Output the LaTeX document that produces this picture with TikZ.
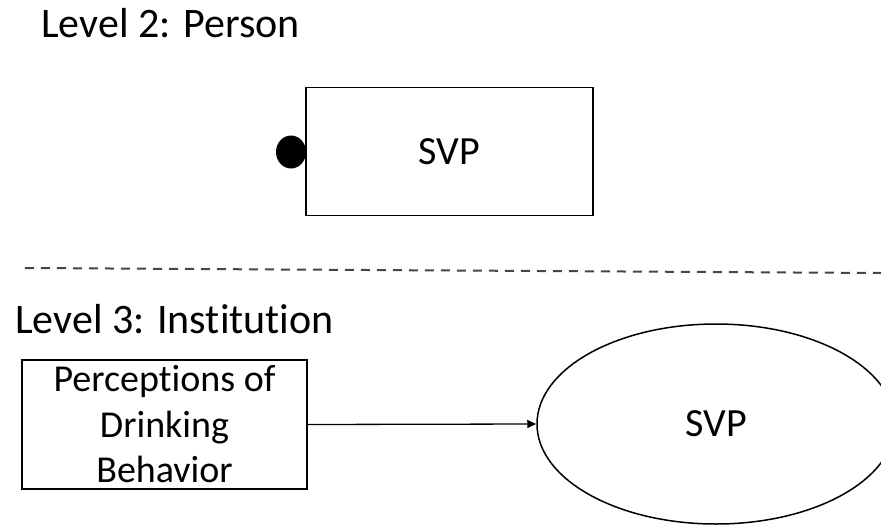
\documentclass[tikz,border=0pt]{standalone}
\usepackage{fontspec}
\setmainfont{Carlito}[Ligatures={NoCommon,NoContextual}]
\usetikzlibrary{arrows.meta,shapes.geometric}
\definecolor{dashgray}{RGB}{70,70,70}
\tikzset{
  levellabel/.style={anchor=base west, inner sep=0pt, font=\fontsize{42}{50}\selectfont},
  boxnode/.style={draw, line width=1.8pt, fill=white, inner sep=0pt},
  bigtext/.style={font=\fontsize{40}{48}\selectfont},
  link/.style={line width=1.3pt, -{Triangle[length=9pt,width=8pt]}},
}
\begin{document}
\begin{tikzpicture}[x=1pt,y=-1pt]
\useasboundingbox (0,0) rectangle (881,525);

% level 2
\node[levellabel] (lvtwo) at (41,37) {Level 2: Person};
\node[draw=none, fill=black, ellipse, minimum width=30pt, minimum height=33pt, inner sep=0pt] (dot) at (291,152) {};
\node[boxnode, bigtext, minimum width=287pt, minimum height=128pt] (svpp) at (449.5,151.5) {SVP};

% separator
\coordinate (sepa) at (25,268);
\coordinate (sepb) at (881,273);
\draw[dashgray, line width=2pt, dash pattern=on 9pt off 7pt] (sepa) -- (sepb);

% level 3
\node[levellabel] (lvthree) at (15,333) {Level 3: Institution};
\node[boxnode, minimum width=285pt, minimum height=129pt, align=center,
      font=\fontsize{38}{45.5}\selectfont] (perc) at (164.5,424.5)
      {Perceptions of\\Drinking\\Behavior};
\node[draw, ellipse, line width=1.5pt, bigtext, minimum width=358pt, minimum height=200pt, inner sep=0pt] (svpi) at (716,424) {SVP};
\draw[link] (perc.east) -- (svpi.west);
\end{tikzpicture}
\end{document}
